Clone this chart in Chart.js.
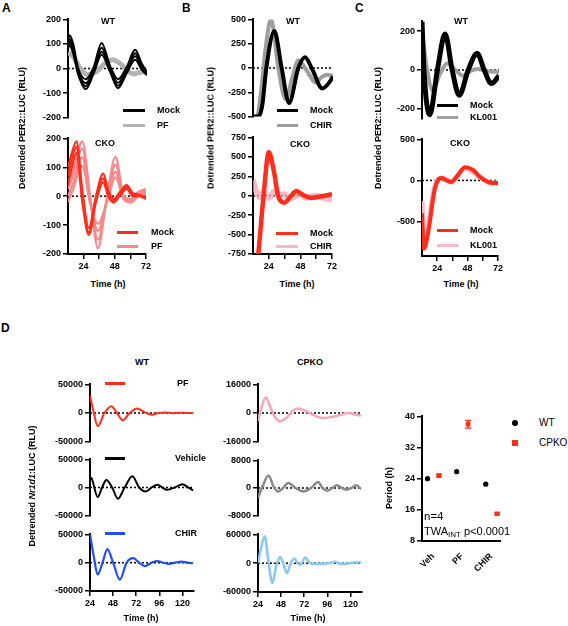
<!DOCTYPE html>
<html>
<head>
<meta charset="utf-8">
<script src="https://cdn.jsdelivr.net/npm/chart.js@4"></script>
<style>
body { margin: 0; background: #fff; }
#fig { position: relative; width: 568px; height: 626px; overflow: hidden; font-family: "Liberation Sans", Arial, sans-serif; }
#fig canvas { position: absolute; }
.t { position: absolute; white-space: nowrap; font-weight: bold; font-size: 9px; color: #000; line-height: 1; z-index: 2; }
.c { transform: translate(-50%, -50%); }
.l { transform: translate(0, -50%); }
.v { transform: translate(-50%, -50%) rotate(-90deg); }
.sw { position: absolute; height: 3px; z-index: 2; }
</style>
</head>
<body>
<div id="fig"></div>
<script>
// ---- Panel A : PER2::LUC, WT and CKO, Mock vs PF ----
const aWtMockT = [12, 13, 16, 19.5, 25.5, 31.5, 37.5, 44, 50, 56.5, 63, 68, 72];
const aWtMock1 = [110, 135, 100, 5, -44, 5, 104, 10, -44, 5, 76, 20, -15];
const aWtMock2 = [100, 120, 85, -5, -60, -5, 85, 0, -58, -5, 62, 10, -20];
const aWtMock3 = [90, 108, 72, -12, -72, -12, 68, -8, -70, -12, 50, 3, -25];
const aWtMock4 = [80, 95, 60, -20, -84, -20, 56, -15, -80, -20, 36, -5, -28];
const aWtPfT = [12, 14, 18, 22, 27, 33, 40, 46, 52, 57, 62, 67, 72];
const aWtPf = [55, 60, 30, -5, -25, -15, 20, 36, 18, -8, -22, -15, -12];

const aCkoMockT = [12, 15, 18.5, 23, 28, 33.5, 39, 43, 47, 52, 57, 62, 67, 72];
const aCkoMock1 = [100, 150, 190, 20, -110, 0, 78, 20, -10, 15, 38, 10, 5, -5];
const aCkoMock2 = [70, 130, 170, 0, -125, -10, 62, 10, -17, 8, 32, 5, 2, -8];
const aCkoMock3 = [40, 100, 150, -20, -134, -20, 48, 0, -22, 3, 25, 0, 0, -10];
const aCkoPfT = [12, 16, 23, 29, 35, 42, 48.5, 55, 60, 66, 72];
const aCkoPf1 = [50, 90, 190, 0, -180, 0, 135, 0, -10, 15, 25];
const aCkoPf2 = [25, 70, 165, -10, -150, -10, 110, -5, -15, 10, 20];
const aCkoPf3 = [0, 45, 135, -20, -120, -15, 85, -10, -20, 5, 15];
const aCkoPf4 = [-20, 25, 105, -25, -95, -20, 65, -12, -22, 0, 10];

// ---- Panel B : Mock vs CHIR ----
const bWtMockT = [12, 16, 19, 22, 28, 33.5, 39, 46, 51, 56, 64, 68, 72];
const bWtMock = [-500, -500, -380, 0, 380, 0, -360, 0, 110, 0, -210, -170, -90];
const bWtChirT = [12, 15, 18, 21, 25.5, 31, 36.5, 41.5, 46, 52, 59, 63, 67.5, 72];
const bWtChir = [-500, -500, -250, 150, 500, 0, -320, -100, 80, -20, -150, -100, -70, -80];
const bCkoMockT = [15, 16, 20, 24, 28, 31, 36, 40, 45, 50, 56, 63, 72];
const bCkoMock = [-900, -750, 0, 560, 300, 0, -90, -20, 60, 10, -30, -10, 20];
const bCkoChirT = [12, 14, 17, 20, 24, 28, 32, 36, 40, 44, 48, 52, 56, 60, 64, 68, 72];
const bCkoChir = [200, 80, -20, 40, -30, 50, 10, 20, -40, -10, 20, -30, -10, 0, -20, -40, -50];

// ---- Panel C : Mock vs KL001 ----
const cWtMockT = [12, 13.5, 18, 24, 30, 35.5, 41, 48, 55, 60.5, 66, 72];
const cWtMock = [250, 0, -230, 0, 185, 0, -130, 0, 85, 0, -70, -30];
const cWtKlT = [12, 16, 20.5, 26, 32, 38, 44, 50, 55, 62, 72];
const cWtKl = [200, 0, -105, -20, 35, 0, -30, -5, 5, -5, -10];
const cCkoMockT = [12, 13.5, 16, 18, 20, 22, 24.5, 27.5, 31, 35, 40, 46, 52, 58, 63, 67, 72];
const cCkoMock = [-400, -830, -700, -525, -300, -110, 0, 30, 5, -20, 60, 160, 130, 40, -10, -30, -30];
const cCkoKlT = [12, 13, 14, 17, 20, 24, 28, 35, 46, 58, 66, 72];
const cCkoKl = [-250, -700, -820, -550, -220, 0, 30, -20, 150, 40, -30, -30];

// ---- Panel D : Nr1d1:LUC, WT and CPKO ----
const dWtPfT = [24, 28, 32, 39, 46, 52, 58, 65, 73, 80, 88, 95, 102, 110, 118, 125, 131];
const dWtPf = [30000, 0, -23000, 0, 12000, 0, -13000, 0, 8000, 2000, -3000, 0, 1000, -500, 500, 0, 0];
const dWtVehT = [24, 26, 32, 36.5, 41, 47, 53, 60, 68, 75, 82, 88, 94, 99, 104, 112, 120, 126, 131];
const dWtVeh = [18600, 15000, -17000, 0, 13500, 0, -20000, 0, 20000, 0, -7000, 0, 5000, 0, -4000, 0, 6000, 0, -5000];
const dWtChirT = [24, 28, 32, 37, 42, 48, 55, 62, 69, 75, 81, 88, 94, 100, 106, 112, 119, 125, 131];
const dWtChir = [50000, 10000, -21000, 0, 24000, 0, -30000, 0, 8000, 0, -6000, 0, 3000, 0, -2000, 0, 2000, 0, -1000];
const dKoPfT = [24, 27, 32, 38, 42, 47, 54, 60, 66, 74, 85, 92, 103, 110, 118, 125, 131];
const dKoPf = [-4600, 2000, 8700, 1600, -2500, -4600, -2500, 1200, 2500, 1000, -2000, -2800, -2000, -1000, 0, -800, -1400];
const dKoVehT = [24, 28, 35, 40, 45, 50, 55.5, 63, 71, 79, 86.5, 91, 96, 101, 106, 111, 116, 121, 126, 131];
const dKoVeh = [-2850, 0, 3600, 500, -1000, 0, 1470, 0, -1000, 0, 1750, 0, -800, 0, 800, 0, -500, 0, 800, -300];
const dKoChirT = [24, 27, 31, 35, 39, 43, 47, 51, 54, 58, 62, 65, 68, 73, 78, 84, 92, 98, 104, 110, 116, 122, 128, 131];
const dKoChir = [0, 30000, 56000, 0, -41000, -5000, 13000, -5000, -21000, 0, 10000, 0, -3000, 12000, 0, -2000, -1000, 0, 3000, -2000, -1000, 1000, 2000, 1500];

// ---- Period summary ----
const periodCats = ['Veh', 'PF', 'CHIR'];
const periodWT = [24, 25.8, 22.6];
const periodCPKO = [24.8, 38, 15];
const periodCPKOsem = [0.3, 1.0, 0.3];

const RED = '#ff2d1a';
const FONT = '"Liberation Sans", Arial, sans-serif';
Chart.defaults.font.family = FONT;
const fig = document.getElementById('fig');

// dotted zero line
const zeroLine = {
  id: 'zeroLine',
  beforeDatasetsDraw(c) {
    const ctx = c.ctx, y = c.scales.y.getPixelForValue(0);
    ctx.save();
    ctx.setLineDash([2, 2]);
    ctx.lineWidth = 1.5;
    ctx.strokeStyle = '#000';
    ctx.beginPath();
    ctx.moveTo(c.chartArea.left, y);
    ctx.lineTo(c.chartArea.right, y);
    ctx.stroke();
    ctx.restore();
  }
};

function axisStyle() {
  return {
    grid: { drawOnChartArea: false, color: '#000', lineWidth: 1.5, tickLength: 5 },
    border: { color: '#000', width: 2 },
  };
}

// one small line panel, box = plot area in page pixels
function plot(box, xr, yr, yTicks, xTicks, series) {
  const YW = 46, PT = 6, PR = 6;
  const XH = xTicks ? 22 : 0, PB = xTicks ? 0 : 6;
  const W = YW + box.w + PR, H = PT + box.h + XH + PB;
  const cv = document.createElement('canvas');
  cv.width = W; cv.height = H;
  cv.style.left = (box.x - YW) + 'px';
  cv.style.top = (box.y - PT) + 'px';
  cv.style.width = W + 'px';
  cv.style.height = H + 'px';
  fig.appendChild(cv);
  new Chart(cv, {
    type: 'line',
    data: {
      datasets: series.map(s => ({
        data: s.t.map((x, i) => ({ x: x, y: s.v[i] })),
        borderColor: s.c,
        borderWidth: s.w,
        pointRadius: 0,
        cubicInterpolationMode: 'monotone',
        fill: false
      }))
    },
    options: {
      responsive: false,
      animation: false,
      devicePixelRatio: 1,
      layout: { padding: { left: 0, top: PT, right: PR, bottom: PB } },
      plugins: { legend: { display: false }, tooltip: { enabled: false } },
      scales: {
        x: Object.assign(axisStyle(), {
          type: 'linear', min: xr[0], max: xr[1], display: !!xTicks,
          afterFit: s => { s.height = XH; },
          afterBuildTicks: s => { s.ticks = (xTicks || []).map(v => ({ value: v })); },
          ticks: {
            color: '#000', font: { size: 9, weight: 'bold' }, padding: 2,
            maxRotation: 0, autoSkip: false,
            callback: v => (v % 24 === 0 ? String(v) : '')
          }
        }),
        y: Object.assign(axisStyle(), {
          type: 'linear', min: yr[0], max: yr[1],
          afterFit: s => { s.width = YW; },
          afterBuildTicks: s => { s.ticks = yTicks.map(v => ({ value: v })); },
          ticks: { color: '#000', font: { size: 9, weight: 'bold' }, padding: 2, autoSkip: false, callback: v => String(v) }
        })
      }
    },
    plugins: [zeroLine]
  });
}

function txt(s, x, y, cls, style) {
  const d = document.createElement('div');
  d.className = 't ' + (cls || '');
  d.innerHTML = s;
  d.style.left = x + 'px';
  d.style.top = y + 'px';
  if (style) Object.assign(d.style, style);
  fig.appendChild(d);
}
function sw(x1, x2, y, color) {
  const d = document.createElement('div');
  d.className = 'sw';
  d.style.left = x1 + 'px';
  d.style.top = (y - 1.5) + 'px';
  d.style.width = (x2 - x1) + 'px';
  d.style.background = color;
  fig.appendChild(d);
}

const hr72 = [24, 36, 48, 60, 72];
const hr132 = [24, 48, 72, 96, 120];

// A
plot({ x: 68, y: 18, w: 79, h: 101 }, [12, 72], [-200, 200], [200, 100, 0, -100, -200], null, [
  { t: aWtMockT, v: aWtMock1, c: '#000', w: 2 },
  { t: aWtMockT, v: aWtMock2, c: '#000', w: 2 },
  { t: aWtMockT, v: aWtMock3, c: '#000', w: 2 },
  { t: aWtMockT, v: aWtMock4, c: '#000', w: 2 },
  { t: aWtPfT, v: aWtPf, c: '#b4b4b4', w: 5 }
]);
plot({ x: 68, y: 137, w: 79, h: 117 }, [12, 72], [-200, 200], [200, 100, 0, -100, -200], hr72, [
  { t: aCkoMockT, v: aCkoMock1, c: RED, w: 2.2 },
  { t: aCkoMockT, v: aCkoMock2, c: RED, w: 2.2 },
  { t: aCkoMockT, v: aCkoMock3, c: RED, w: 2.2 },
  { t: aCkoPfT, v: aCkoPf1, c: '#f68a8a', w: 2.2 },
  { t: aCkoPfT, v: aCkoPf2, c: '#f68a8a', w: 2.2 },
  { t: aCkoPfT, v: aCkoPf3, c: '#f68a8a', w: 2.2 },
  { t: aCkoPfT, v: aCkoPf4, c: '#f68a8a', w: 2.2 }
]);

// B
plot({ x: 253, y: 18, w: 80, h: 100 }, [12, 72], [-500, 500], [500, 250, 0, -250, -500], null, [
  { t: bWtMockT, v: bWtMock, c: '#000', w: 4 },
  { t: bWtChirT, v: bWtChir, c: '#9e9e9e', w: 4 }
]);
plot({ x: 253, y: 136, w: 80, h: 118 }, [12, 72], [-750, 750], [750, 500, 250, 0, -250, -500, -750], hr72, [
  { t: bCkoMockT, v: bCkoMock, c: RED, w: 4.5 },
  { t: bCkoChirT, v: bCkoChir, c: 'rgba(245,165,180,0.75)', w: 6 }
]);

// C
plot({ x: 422, y: 20, w: 77, h: 100 }, [12, 72], [-250, 250], [200, 0, -200], null, [
  { t: cWtMockT, v: cWtMock, c: '#000', w: 5 },
  { t: cWtKlT, v: cWtKl, c: '#a0a0a0', w: 4 }
]);
plot({ x: 422, y: 138, w: 77, h: 118 }, [12, 72], [-920, 500], [500, 0, -500], hr72, [
  { t: cCkoMockT, v: cCkoMock, c: RED, w: 4 },
  { t: cCkoKlT, v: cCkoKl, c: '#f8b9c5', w: 5 }
]);

// D
plot({ x: 90, y: 383, w: 104, h: 60 }, [24, 132], [-50000, 50000], [50000, 0, -50000], null, [
  { t: dWtPfT, v: dWtPf, c: RED, w: 2 }
]);
plot({ x: 90, y: 458, w: 104, h: 59 }, [24, 132], [-50000, 50000], [50000, 0, -50000], null, [
  { t: dWtVehT, v: dWtVeh, c: '#000', w: 2 }
]);
plot({ x: 90, y: 533, w: 104, h: 58 }, [24, 132], [-50000, 50000], [50000, 0, -50000], hr132, [
  { t: dWtChirT, v: dWtChir, c: '#1f4ef5', w: 2.2 }
]);
plot({ x: 258, y: 383, w: 104, h: 60 }, [24, 132], [-16000, 16000], [16000, 0, -16000], null, [
  { t: dKoPfT, v: dKoPf, c: '#f6a6b6', w: 2.5 }
]);
plot({ x: 258, y: 459, w: 104, h: 58 }, [24, 132], [-8000, 8000], [8000, 0, -8000], null, [
  { t: dKoVehT, v: dKoVeh, c: '#8a8a8a', w: 2.5 }
]);
plot({ x: 258, y: 533, w: 104, h: 59 }, [24, 132], [-60000, 60000], [60000, 0, -60000], hr132, [
  { t: dKoChirT, v: dKoChir, c: '#88c8f5', w: 2.5 }
]);

// period summary scatter
const errBars = {
  id: 'errBars',
  afterDatasetsDraw(c) {
    const ctx = c.ctx, ys = c.scales.y, meta = c.getDatasetMeta(1);
    ctx.save();
    ctx.strokeStyle = RED;
    ctx.lineWidth = 1.2;
    meta.data.forEach((p, i) => {
      const y1 = ys.getPixelForValue(periodCPKO[i] + periodCPKOsem[i]);
      const y2 = ys.getPixelForValue(periodCPKO[i] - periodCPKOsem[i]);
      ctx.beginPath();
      ctx.moveTo(p.x, y1); ctx.lineTo(p.x, y2);
      ctx.moveTo(p.x - 3, y1); ctx.lineTo(p.x + 3, y1);
      ctx.moveTo(p.x - 3, y2); ctx.lineTo(p.x + 3, y2);
      ctx.stroke();
    });
    ctx.restore();
  }
};
(function () {
  const box = { x: 422, y: 415, w: 78, h: 126 };
  const YW = 40, PT = 6, PR = 6, XH = 30;
  const W = YW + box.w + PR, H = PT + box.h + XH;
  const cv = document.createElement('canvas');
  cv.width = W; cv.height = H;
  cv.style.left = (box.x - YW) + 'px';
  cv.style.top = (box.y - PT) + 'px';
  cv.style.width = W + 'px';
  cv.style.height = H + 'px';
  fig.appendChild(cv);
  new Chart(cv, {
    type: 'scatter',
    data: {
      datasets: [
        { data: periodWT.map((y, i) => ({ x: i - 0.19, y: y })), pointStyle: 'circle', pointRadius: 2.6, backgroundColor: '#000', borderWidth: 0 },
        { data: periodCPKO.map((y, i) => ({ x: i + 0.2, y: y })), pointStyle: 'rect', pointRadius: 3.3, backgroundColor: RED, borderWidth: 0 }
      ]
    },
    options: {
      responsive: false, animation: false, devicePixelRatio: 1,
      layout: { padding: { left: 0, top: PT, right: PR, bottom: 0 } },
      plugins: { legend: { display: false }, tooltip: { enabled: false } },
      scales: {
        x: {
          type: 'linear', min: -0.38, max: 2.3,
          afterFit: s => { s.height = XH; },
          afterBuildTicks: s => { s.ticks = periodCats.map((c, i) => ({ value: i })); },
          grid: { display: false },
          border: { color: '#000', width: 2 },
          ticks: { color: '#000', font: { size: 9, weight: 'bold' }, minRotation: 45, maxRotation: 45, padding: 2, callback: v => periodCats[v] }
        },
        y: Object.assign(axisStyle(), {
          type: 'linear', min: 8, max: 40,
          afterFit: s => { s.width = YW; },
          afterBuildTicks: s => { s.ticks = [8, 16, 24, 32, 40].map(v => ({ value: v })); },
          ticks: { color: '#000', font: { size: 9, weight: 'bold' }, padding: 2, callback: v => String(v) }
        })
      }
    },
    plugins: [errBars]
  });
})();

// texts: panel letters
txt('A', 2, 2, '', { fontSize: '12px' });
txt('B', 182, 2, '', { fontSize: '12px' });
txt('C', 355, 2, '', { fontSize: '12px' });
txt('D', 1, 322, '', { fontSize: '12px' });

// y titles
txt('Detrended PER2::LUC (RLU)', 22, 128, 'v');
txt('Detrended PER2::LUC (RLU)', 211, 128, 'v');
txt('Detrended PER2::LUC (RLU)', 378, 128, 'v');
txt('Detrended <i>Nr1d1</i>:LUC (RLU)', 32, 486, 'v');
txt('Period (h)', 389, 488, 'v');

// x titles
txt('Time (h)', 108, 284, 'c');
txt('Time (h)', 297, 284, 'c');
txt('Time (h)', 461, 284, 'c');
txt('Time (h)', 141, 618, 'c');
txt('Time (h)', 308, 618, 'c');

// panel titles
txt('WT', 108, 21, 'c');
txt('CKO', 105, 143, 'c');
txt('WT', 293, 21, 'c');
txt('CKO', 300, 144, 'c');
txt('WT', 461, 21, 'c');
txt('CKO', 460, 143, 'c');
txt('WT', 142, 362, 'c');
txt('CPKO', 310, 362, 'c');

// legends A-C
sw(123, 145, 110, '#000'); txt('Mock', 157, 110, 'l');
sw(123, 145, 125, '#b4b4b4'); txt('PF', 157, 125, 'l');
sw(117, 138, 232, RED); txt('Mock', 151, 232, 'l');
sw(117, 138, 246, '#f68a8a'); txt('PF', 151, 246, 'l');
sw(277, 298, 110, '#000'); txt('Mock', 310, 110, 'l');
sw(277, 298, 125, '#9e9e9e'); txt('CHIR', 310, 125, 'l');
sw(276, 298, 233, RED); txt('Mock', 310, 233, 'l');
sw(276, 298, 246, '#f7b7c3'); txt('CHIR', 310, 246, 'l');
sw(437, 458, 105, '#000'); txt('Mock', 470, 105, 'l');
sw(437, 458, 117, '#a0a0a0'); txt('KL001', 470, 117, 'l');
sw(437, 458, 230, RED); txt('Mock', 470, 230, 'l');
sw(437, 458, 245, '#f8b9c5'); txt('KL001', 470, 245, 'l');

// legends D
sw(105, 125, 383, RED); txt('PF', 177, 383, 'l');
sw(105, 125, 458, '#000'); txt('Vehicle', 175, 458, 'l');
sw(105, 125, 533, '#1f4ef5'); txt('CHIR', 175, 533, 'l');

// scatter legend and stats
(function () {
  const dot = document.createElement('div');
  Object.assign(dot.style, { position: 'absolute', left: '512px', top: '420px', width: '6px', height: '6px', borderRadius: '50%', background: '#000' });
  fig.appendChild(dot);
  const sq = document.createElement('div');
  Object.assign(sq.style, { position: 'absolute', left: '512px', top: '440px', width: '6px', height: '6px', background: RED });
  fig.appendChild(sq);
})();
txt('WT', 539, 423, 'l', { fontWeight: 'normal', fontSize: '10px' });
txt('CPKO', 539, 443, 'l', { fontWeight: 'normal', fontSize: '10px' });
txt('n=4', 424, 517, 'l', { fontWeight: 'normal', fontSize: '11.5px' });
txt('TWA<sub style="font-size:8px;vertical-align:-2px">INT</sub> p&lt;0.0001', 424, 532, 'l', { fontWeight: 'normal', fontSize: '11px' });
</script>
</body>
</html>
